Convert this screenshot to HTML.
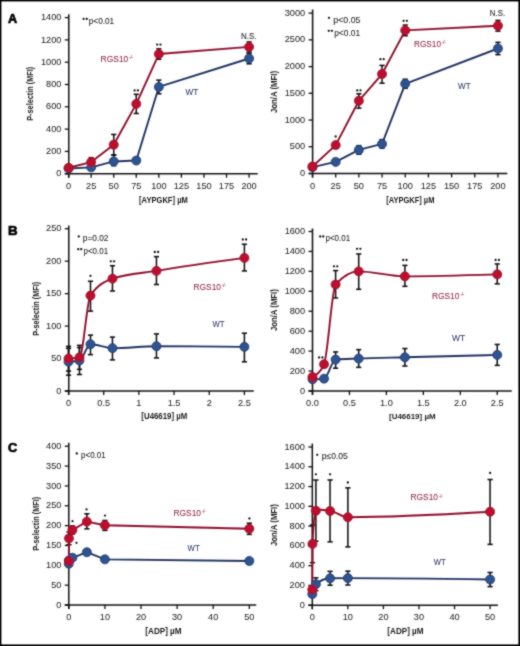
<!DOCTYPE html>
<html><head><meta charset="utf-8"><style>
html,body{margin:0;padding:0;background:#fff;}
body{width:520px;height:646px;overflow:hidden;}
.fr{position:absolute;left:0;top:0;width:520px;height:646px;box-sizing:border-box;border:1.5px solid #000;}
svg{position:absolute;left:0;top:0;will-change:transform;}
text{font-family:"Liberation Sans",sans-serif;}
.t{font-size:9.2px;fill:#262626;stroke:#262626;stroke-width:0.05px;}
.ti{font-size:8.6px;fill:#1a1a1a;font-weight:bold;}
.n{font-size:8.6px;fill:#262626;stroke:#262626;stroke-width:0.08px;}
.ss{font-size:6px;}
.st{font-size:7px;fill:#222;font-weight:bold;}
.lr{font-size:8.8px;fill:#8e2a4a;stroke:#8e2a4a;stroke-width:0.08px;}
.lrs{font-size:5px;fill:#8e2a4a;stroke:#8e2a4a;stroke-width:0.1px;}
.lb{font-size:8.8px;fill:#2c3b66;stroke:#2c3b66;stroke-width:0.08px;}
.L{font-size:13px;font-weight:bold;fill:#000;stroke:#000;stroke-width:0.7px;}
</style></head><body>
<svg width="520" height="646" viewBox="0 0 520 646"><defs><filter id="bl" x="0" y="0" width="520" height="646" filterUnits="userSpaceOnUse"><feConvolveMatrix order="3" kernelMatrix="1 2 1 2 12 2 1 2 1" divisor="24" edgeMode="duplicate"/></filter></defs><g filter="url(#bl)">
<line x1="68.8" y1="14.3" x2="68.8" y2="177.7" stroke="#111" stroke-width="1.5"/>
<line x1="64.8" y1="173.7" x2="257.7" y2="173.7" stroke="#111" stroke-width="1.5"/>
<line x1="64.8" y1="173.7" x2="68.8" y2="173.7" stroke="#111" stroke-width="1.3"/>
<text x="61.4" y="176.3" text-anchor="end" class="t" textLength="5.12" lengthAdjust="spacingAndGlyphs">0</text>
<line x1="64.8" y1="151.4" x2="68.8" y2="151.4" stroke="#111" stroke-width="1.3"/>
<text x="61.4" y="154" text-anchor="end" class="t" textLength="15.35" lengthAdjust="spacingAndGlyphs">200</text>
<line x1="64.8" y1="129.1" x2="68.8" y2="129.1" stroke="#111" stroke-width="1.3"/>
<text x="61.4" y="131.7" text-anchor="end" class="t" textLength="15.35" lengthAdjust="spacingAndGlyphs">400</text>
<line x1="64.8" y1="106.8" x2="68.8" y2="106.8" stroke="#111" stroke-width="1.3"/>
<text x="61.4" y="109.4" text-anchor="end" class="t" textLength="15.35" lengthAdjust="spacingAndGlyphs">600</text>
<line x1="64.8" y1="84.5" x2="68.8" y2="84.5" stroke="#111" stroke-width="1.3"/>
<text x="61.4" y="87.1" text-anchor="end" class="t" textLength="15.35" lengthAdjust="spacingAndGlyphs">800</text>
<line x1="64.8" y1="62.2" x2="68.8" y2="62.2" stroke="#111" stroke-width="1.3"/>
<text x="61.4" y="64.8" text-anchor="end" class="t" textLength="20.47" lengthAdjust="spacingAndGlyphs">1000</text>
<line x1="64.8" y1="39.9" x2="68.8" y2="39.9" stroke="#111" stroke-width="1.3"/>
<text x="61.4" y="42.5" text-anchor="end" class="t" textLength="20.47" lengthAdjust="spacingAndGlyphs">1200</text>
<line x1="64.8" y1="17.6" x2="68.8" y2="17.6" stroke="#111" stroke-width="1.3"/>
<text x="61.4" y="20.2" text-anchor="end" class="t" textLength="20.47" lengthAdjust="spacingAndGlyphs">1400</text>
<line x1="68.6" y1="173.7" x2="68.6" y2="177.7" stroke="#111" stroke-width="1.3"/>
<text x="68.6" y="188.7" text-anchor="middle" class="t" textLength="5.12" lengthAdjust="spacingAndGlyphs">0</text>
<line x1="91.16" y1="173.7" x2="91.16" y2="177.7" stroke="#111" stroke-width="1.3"/>
<text x="91.16" y="188.7" text-anchor="middle" class="t" textLength="10.23" lengthAdjust="spacingAndGlyphs">25</text>
<line x1="113.72" y1="173.7" x2="113.72" y2="177.7" stroke="#111" stroke-width="1.3"/>
<text x="113.72" y="188.7" text-anchor="middle" class="t" textLength="10.23" lengthAdjust="spacingAndGlyphs">50</text>
<line x1="136.28" y1="173.7" x2="136.28" y2="177.7" stroke="#111" stroke-width="1.3"/>
<text x="136.28" y="188.7" text-anchor="middle" class="t" textLength="10.23" lengthAdjust="spacingAndGlyphs">75</text>
<line x1="158.84" y1="173.7" x2="158.84" y2="177.7" stroke="#111" stroke-width="1.3"/>
<text x="158.84" y="188.7" text-anchor="middle" class="t" textLength="15.35" lengthAdjust="spacingAndGlyphs">100</text>
<line x1="181.4" y1="173.7" x2="181.4" y2="177.7" stroke="#111" stroke-width="1.3"/>
<text x="181.4" y="188.7" text-anchor="middle" class="t" textLength="15.35" lengthAdjust="spacingAndGlyphs">125</text>
<line x1="203.96" y1="173.7" x2="203.96" y2="177.7" stroke="#111" stroke-width="1.3"/>
<text x="203.96" y="188.7" text-anchor="middle" class="t" textLength="15.35" lengthAdjust="spacingAndGlyphs">150</text>
<line x1="226.52" y1="173.7" x2="226.52" y2="177.7" stroke="#111" stroke-width="1.3"/>
<text x="226.52" y="188.7" text-anchor="middle" class="t" textLength="15.35" lengthAdjust="spacingAndGlyphs">175</text>
<line x1="249.08" y1="173.7" x2="249.08" y2="177.7" stroke="#111" stroke-width="1.3"/>
<text x="249.08" y="188.7" text-anchor="middle" class="t" textLength="15.35" lengthAdjust="spacingAndGlyphs">200</text>
<line x1="113.72" y1="155.08" x2="113.72" y2="165.67" stroke="#0a0a0a" stroke-width="1.5"/>
<line x1="111.12" y1="155.08" x2="116.32" y2="155.08" stroke="#0a0a0a" stroke-width="1.5"/>
<line x1="111.12" y1="165.67" x2="116.32" y2="165.67" stroke="#0a0a0a" stroke-width="1.5"/>
<line x1="158.84" y1="80.15" x2="158.84" y2="93.75" stroke="#0a0a0a" stroke-width="1.5"/>
<line x1="156.24" y1="80.15" x2="161.44" y2="80.15" stroke="#0a0a0a" stroke-width="1.5"/>
<line x1="156.24" y1="93.75" x2="161.44" y2="93.75" stroke="#0a0a0a" stroke-width="1.5"/>
<line x1="249.08" y1="53.28" x2="249.08" y2="63.76" stroke="#0a0a0a" stroke-width="1.5"/>
<line x1="246.48" y1="53.28" x2="251.68" y2="53.28" stroke="#0a0a0a" stroke-width="1.5"/>
<line x1="246.48" y1="63.76" x2="251.68" y2="63.76" stroke="#0a0a0a" stroke-width="1.5"/>
<line x1="91.16" y1="157.64" x2="91.16" y2="166.56" stroke="#0a0a0a" stroke-width="1.5"/>
<line x1="88.56" y1="157.64" x2="93.76" y2="157.64" stroke="#0a0a0a" stroke-width="1.5"/>
<line x1="88.56" y1="166.56" x2="93.76" y2="166.56" stroke="#0a0a0a" stroke-width="1.5"/>
<line x1="113.72" y1="134.45" x2="113.72" y2="154.97" stroke="#0a0a0a" stroke-width="1.5"/>
<line x1="111.12" y1="134.45" x2="116.32" y2="134.45" stroke="#0a0a0a" stroke-width="1.5"/>
<line x1="111.12" y1="154.97" x2="116.32" y2="154.97" stroke="#0a0a0a" stroke-width="1.5"/>
<line x1="136.28" y1="94.31" x2="136.28" y2="113.49" stroke="#0a0a0a" stroke-width="1.5"/>
<line x1="133.68" y1="94.31" x2="138.88" y2="94.31" stroke="#0a0a0a" stroke-width="1.5"/>
<line x1="133.68" y1="113.49" x2="138.88" y2="113.49" stroke="#0a0a0a" stroke-width="1.5"/>
<line x1="158.84" y1="48.82" x2="158.84" y2="59.3" stroke="#0a0a0a" stroke-width="1.5"/>
<line x1="156.24" y1="48.82" x2="161.44" y2="48.82" stroke="#0a0a0a" stroke-width="1.5"/>
<line x1="156.24" y1="59.3" x2="161.44" y2="59.3" stroke="#0a0a0a" stroke-width="1.5"/>
<line x1="249.08" y1="41.91" x2="249.08" y2="51.94" stroke="#0a0a0a" stroke-width="1.5"/>
<line x1="246.48" y1="41.91" x2="251.68" y2="41.91" stroke="#0a0a0a" stroke-width="1.5"/>
<line x1="246.48" y1="51.94" x2="251.68" y2="51.94" stroke="#0a0a0a" stroke-width="1.5"/>
<polyline points="68.6,168.57 91.16,167.34 113.72,161.44 136.28,160.54 158.84,86.95 249.08,58.52" fill="none" stroke="#22335f" stroke-width="1.9" stroke-linejoin="round"/>
<polyline points="68.6,167.79 91.16,162.1 113.72,144.71 136.28,103.9 158.84,54.06 249.08,46.92" fill="none" stroke="#8e0b2a" stroke-width="1.9" stroke-linejoin="round"/>
<circle cx="68.6" cy="168.57" r="4.5" fill="#2e5391" stroke="#1e3566" stroke-width="0.8"/>
<circle cx="91.16" cy="167.34" r="4.5" fill="#2e5391" stroke="#1e3566" stroke-width="0.8"/>
<circle cx="113.72" cy="161.44" r="4.5" fill="#2e5391" stroke="#1e3566" stroke-width="0.8"/>
<circle cx="136.28" cy="160.54" r="4.5" fill="#2e5391" stroke="#1e3566" stroke-width="0.8"/>
<circle cx="158.84" cy="86.95" r="4.5" fill="#2e5391" stroke="#1e3566" stroke-width="0.8"/>
<circle cx="249.08" cy="58.52" r="4.5" fill="#2e5391" stroke="#1e3566" stroke-width="0.8"/>
<circle cx="68.6" cy="167.79" r="4.5" fill="#bf0e2d" stroke="#8a0b27" stroke-width="0.8"/>
<circle cx="91.16" cy="162.1" r="4.5" fill="#bf0e2d" stroke="#8a0b27" stroke-width="0.8"/>
<circle cx="113.72" cy="144.71" r="4.5" fill="#bf0e2d" stroke="#8a0b27" stroke-width="0.8"/>
<circle cx="136.28" cy="103.9" r="4.5" fill="#bf0e2d" stroke="#8a0b27" stroke-width="0.8"/>
<circle cx="158.84" cy="54.06" r="4.5" fill="#bf0e2d" stroke="#8a0b27" stroke-width="0.8"/>
<circle cx="249.08" cy="46.92" r="4.5" fill="#bf0e2d" stroke="#8a0b27" stroke-width="0.8"/>
<circle cx="134.63" cy="90.4" r="1.15" fill="#151515"/>
<circle cx="137.93" cy="90.4" r="1.15" fill="#151515"/>
<circle cx="157.19" cy="44.6" r="1.15" fill="#151515"/>
<circle cx="160.49" cy="44.6" r="1.15" fill="#151515"/>
<text x="240.96" y="39.4" class="n" textLength="15.6" lengthAdjust="spacingAndGlyphs">N.S.</text>
<circle cx="83.6" cy="18.9" r="1.15" fill="#151515"/>
<circle cx="86.8" cy="18.9" r="1.15" fill="#151515"/>
<text x="88.8" y="23.5" class="n" textLength="25.4" lengthAdjust="spacingAndGlyphs">p&lt;0.01</text>
<text x="100.52" y="61.5" class="lr" textLength="27.81" lengthAdjust="spacingAndGlyphs">RGS10</text>
<text x="129.21" y="59.1" class="lrs" textLength="3.97" lengthAdjust="spacingAndGlyphs">-/-</text>
<text x="185.56" y="94.5" class="lb" textLength="12.8" lengthAdjust="spacingAndGlyphs">WT</text>
<text transform="translate(32.64,120.78) rotate(-90)" class="ti" style="font-size:8.88px" textLength="54.04" lengthAdjust="spacingAndGlyphs">P-selectin (MFI)</text>
<text x="139.08" y="202.58" class="ti" textLength="48.74" lengthAdjust="spacingAndGlyphs" style="font-size:8.66px">[AYPGKF] µM</text>
<text x="7.98" y="23.4" class="L" textLength="9.16" lengthAdjust="spacingAndGlyphs" style="font-size:13.48px">A</text>
<line x1="312.6" y1="9.5" x2="312.6" y2="177.5" stroke="#111" stroke-width="1.5"/>
<line x1="308.6" y1="173.5" x2="507.3" y2="173.5" stroke="#111" stroke-width="1.5"/>
<line x1="308.6" y1="173.5" x2="312.6" y2="173.5" stroke="#111" stroke-width="1.3"/>
<text x="305.2" y="176.1" text-anchor="end" class="t" textLength="5.12" lengthAdjust="spacingAndGlyphs">0</text>
<line x1="308.6" y1="146.77" x2="312.6" y2="146.77" stroke="#111" stroke-width="1.3"/>
<text x="305.2" y="149.37" text-anchor="end" class="t" textLength="15.35" lengthAdjust="spacingAndGlyphs">500</text>
<line x1="308.6" y1="120.04" x2="312.6" y2="120.04" stroke="#111" stroke-width="1.3"/>
<text x="305.2" y="122.64" text-anchor="end" class="t" textLength="20.47" lengthAdjust="spacingAndGlyphs">1000</text>
<line x1="308.6" y1="93.31" x2="312.6" y2="93.31" stroke="#111" stroke-width="1.3"/>
<text x="305.2" y="95.91" text-anchor="end" class="t" textLength="20.47" lengthAdjust="spacingAndGlyphs">1500</text>
<line x1="308.6" y1="66.58" x2="312.6" y2="66.58" stroke="#111" stroke-width="1.3"/>
<text x="305.2" y="69.18" text-anchor="end" class="t" textLength="20.47" lengthAdjust="spacingAndGlyphs">2000</text>
<line x1="308.6" y1="39.85" x2="312.6" y2="39.85" stroke="#111" stroke-width="1.3"/>
<text x="305.2" y="42.45" text-anchor="end" class="t" textLength="20.47" lengthAdjust="spacingAndGlyphs">2500</text>
<line x1="308.6" y1="13.12" x2="312.6" y2="13.12" stroke="#111" stroke-width="1.3"/>
<text x="305.2" y="15.72" text-anchor="end" class="t" textLength="20.47" lengthAdjust="spacingAndGlyphs">3000</text>
<line x1="312.5" y1="173.5" x2="312.5" y2="177.5" stroke="#111" stroke-width="1.3"/>
<text x="312.5" y="188.5" text-anchor="middle" class="t" textLength="5.12" lengthAdjust="spacingAndGlyphs">0</text>
<line x1="335.68" y1="173.5" x2="335.68" y2="177.5" stroke="#111" stroke-width="1.3"/>
<text x="335.68" y="188.5" text-anchor="middle" class="t" textLength="10.23" lengthAdjust="spacingAndGlyphs">25</text>
<line x1="358.86" y1="173.5" x2="358.86" y2="177.5" stroke="#111" stroke-width="1.3"/>
<text x="358.86" y="188.5" text-anchor="middle" class="t" textLength="10.23" lengthAdjust="spacingAndGlyphs">50</text>
<line x1="382.04" y1="173.5" x2="382.04" y2="177.5" stroke="#111" stroke-width="1.3"/>
<text x="382.04" y="188.5" text-anchor="middle" class="t" textLength="10.23" lengthAdjust="spacingAndGlyphs">75</text>
<line x1="405.22" y1="173.5" x2="405.22" y2="177.5" stroke="#111" stroke-width="1.3"/>
<text x="405.22" y="188.5" text-anchor="middle" class="t" textLength="15.35" lengthAdjust="spacingAndGlyphs">100</text>
<line x1="428.4" y1="173.5" x2="428.4" y2="177.5" stroke="#111" stroke-width="1.3"/>
<text x="428.4" y="188.5" text-anchor="middle" class="t" textLength="15.35" lengthAdjust="spacingAndGlyphs">125</text>
<line x1="451.58" y1="173.5" x2="451.58" y2="177.5" stroke="#111" stroke-width="1.3"/>
<text x="451.58" y="188.5" text-anchor="middle" class="t" textLength="15.35" lengthAdjust="spacingAndGlyphs">150</text>
<line x1="474.76" y1="173.5" x2="474.76" y2="177.5" stroke="#111" stroke-width="1.3"/>
<text x="474.76" y="188.5" text-anchor="middle" class="t" textLength="15.35" lengthAdjust="spacingAndGlyphs">175</text>
<line x1="497.94" y1="173.5" x2="497.94" y2="177.5" stroke="#111" stroke-width="1.3"/>
<text x="497.94" y="188.5" text-anchor="middle" class="t" textLength="15.35" lengthAdjust="spacingAndGlyphs">200</text>
<line x1="358.86" y1="145.65" x2="358.86" y2="154.2" stroke="#0a0a0a" stroke-width="1.5"/>
<line x1="356.26" y1="145.65" x2="361.46" y2="145.65" stroke="#0a0a0a" stroke-width="1.5"/>
<line x1="356.26" y1="154.2" x2="361.46" y2="154.2" stroke="#0a0a0a" stroke-width="1.5"/>
<line x1="382.04" y1="139.61" x2="382.04" y2="148.16" stroke="#0a0a0a" stroke-width="1.5"/>
<line x1="379.44" y1="139.61" x2="384.64" y2="139.61" stroke="#0a0a0a" stroke-width="1.5"/>
<line x1="379.44" y1="148.16" x2="384.64" y2="148.16" stroke="#0a0a0a" stroke-width="1.5"/>
<line x1="405.22" y1="79.25" x2="405.22" y2="88.34" stroke="#0a0a0a" stroke-width="1.5"/>
<line x1="402.62" y1="79.25" x2="407.82" y2="79.25" stroke="#0a0a0a" stroke-width="1.5"/>
<line x1="402.62" y1="88.34" x2="407.82" y2="88.34" stroke="#0a0a0a" stroke-width="1.5"/>
<line x1="497.94" y1="42.36" x2="497.94" y2="54.66" stroke="#0a0a0a" stroke-width="1.5"/>
<line x1="495.34" y1="42.36" x2="500.54" y2="42.36" stroke="#0a0a0a" stroke-width="1.5"/>
<line x1="495.34" y1="54.66" x2="500.54" y2="54.66" stroke="#0a0a0a" stroke-width="1.5"/>
<line x1="358.86" y1="93.79" x2="358.86" y2="108.17" stroke="#0a0a0a" stroke-width="1.5"/>
<line x1="356.26" y1="93.79" x2="361.46" y2="93.79" stroke="#0a0a0a" stroke-width="1.5"/>
<line x1="356.26" y1="108.17" x2="361.46" y2="108.17" stroke="#0a0a0a" stroke-width="1.5"/>
<line x1="382.04" y1="65.4" x2="382.04" y2="83.21" stroke="#0a0a0a" stroke-width="1.5"/>
<line x1="379.44" y1="65.4" x2="384.64" y2="65.4" stroke="#0a0a0a" stroke-width="1.5"/>
<line x1="379.44" y1="83.21" x2="384.64" y2="83.21" stroke="#0a0a0a" stroke-width="1.5"/>
<line x1="405.22" y1="25.04" x2="405.22" y2="35.73" stroke="#0a0a0a" stroke-width="1.5"/>
<line x1="402.62" y1="25.04" x2="407.82" y2="25.04" stroke="#0a0a0a" stroke-width="1.5"/>
<line x1="402.62" y1="35.73" x2="407.82" y2="35.73" stroke="#0a0a0a" stroke-width="1.5"/>
<line x1="497.94" y1="20.44" x2="497.94" y2="31.14" stroke="#0a0a0a" stroke-width="1.5"/>
<line x1="495.34" y1="20.44" x2="500.54" y2="20.44" stroke="#0a0a0a" stroke-width="1.5"/>
<line x1="495.34" y1="31.14" x2="500.54" y2="31.14" stroke="#0a0a0a" stroke-width="1.5"/>
<polyline points="312.5,167.19 335.68,161.9 358.86,149.92 382.04,143.88 405.22,83.79 497.94,48.51" fill="none" stroke="#22335f" stroke-width="1.9" stroke-linejoin="round"/>
<polyline points="312.5,166.5 335.68,145.11 358.86,100.79 382.04,74.01 405.22,30.39 497.94,25.79" fill="none" stroke="#8e0b2a" stroke-width="1.9" stroke-linejoin="round"/>
<circle cx="312.5" cy="167.19" r="4.5" fill="#2e5391" stroke="#1e3566" stroke-width="0.8"/>
<circle cx="335.68" cy="161.9" r="4.5" fill="#2e5391" stroke="#1e3566" stroke-width="0.8"/>
<circle cx="358.86" cy="149.92" r="4.5" fill="#2e5391" stroke="#1e3566" stroke-width="0.8"/>
<circle cx="382.04" cy="143.88" r="4.5" fill="#2e5391" stroke="#1e3566" stroke-width="0.8"/>
<circle cx="405.22" cy="83.79" r="4.5" fill="#2e5391" stroke="#1e3566" stroke-width="0.8"/>
<circle cx="497.94" cy="48.51" r="4.5" fill="#2e5391" stroke="#1e3566" stroke-width="0.8"/>
<circle cx="312.5" cy="166.5" r="4.5" fill="#bf0e2d" stroke="#8a0b27" stroke-width="0.8"/>
<circle cx="335.68" cy="145.11" r="4.5" fill="#bf0e2d" stroke="#8a0b27" stroke-width="0.8"/>
<circle cx="358.86" cy="100.79" r="4.5" fill="#bf0e2d" stroke="#8a0b27" stroke-width="0.8"/>
<circle cx="382.04" cy="74.01" r="4.5" fill="#bf0e2d" stroke="#8a0b27" stroke-width="0.8"/>
<circle cx="405.22" cy="30.39" r="4.5" fill="#bf0e2d" stroke="#8a0b27" stroke-width="0.8"/>
<circle cx="497.94" cy="25.79" r="4.5" fill="#bf0e2d" stroke="#8a0b27" stroke-width="0.8"/>
<circle cx="335.68" cy="136.5" r="1.15" fill="#151515"/>
<circle cx="357.21" cy="90.4" r="1.15" fill="#151515"/>
<circle cx="360.51" cy="90.4" r="1.15" fill="#151515"/>
<circle cx="380.39" cy="59.2" r="1.15" fill="#151515"/>
<circle cx="383.69" cy="59.2" r="1.15" fill="#151515"/>
<circle cx="403.57" cy="20.8" r="1.15" fill="#151515"/>
<circle cx="406.87" cy="20.8" r="1.15" fill="#151515"/>
<text x="489.87" y="16.3" class="n" textLength="15.27" lengthAdjust="spacingAndGlyphs">N.S.</text>
<circle cx="329" cy="17.8" r="1.15" fill="#151515"/>
<text x="333.2" y="22.5" class="n" textLength="27.3" lengthAdjust="spacingAndGlyphs">p&lt;0.05</text>
<circle cx="328.8" cy="30.8" r="1.15" fill="#151515"/>
<circle cx="331.9" cy="30.8" r="1.15" fill="#151515"/>
<text x="334.2" y="35.6" class="n" textLength="26" lengthAdjust="spacingAndGlyphs">p&lt;0.01</text>
<text x="414.04" y="47.1" class="lr" textLength="26.98" lengthAdjust="spacingAndGlyphs">RGS10</text>
<text x="441.91" y="44.4" class="lrs" textLength="3.97" lengthAdjust="spacingAndGlyphs">-/-</text>
<text x="458.06" y="88.8" class="lb" textLength="12.6" lengthAdjust="spacingAndGlyphs">WT</text>
<text transform="translate(276.97,113.02) rotate(-90)" class="ti" style="font-size:9.2px" textLength="42.08" lengthAdjust="spacingAndGlyphs">Jon/A (MFI)</text>
<text x="386.19" y="202.58" class="ti" textLength="48.23" lengthAdjust="spacingAndGlyphs" style="font-size:8.66px">[AYPGKF] µM</text>
<line x1="68.8" y1="225.6" x2="68.8" y2="395" stroke="#111" stroke-width="1.5"/>
<line x1="64.8" y1="391" x2="253.75" y2="391" stroke="#111" stroke-width="1.5"/>
<line x1="64.8" y1="391" x2="68.8" y2="391" stroke="#111" stroke-width="1.3"/>
<text x="61.4" y="393.6" text-anchor="end" class="t" textLength="5.12" lengthAdjust="spacingAndGlyphs">0</text>
<line x1="64.8" y1="358.54" x2="68.8" y2="358.54" stroke="#111" stroke-width="1.3"/>
<text x="61.4" y="361.14" text-anchor="end" class="t" textLength="10.23" lengthAdjust="spacingAndGlyphs">50</text>
<line x1="64.8" y1="326.08" x2="68.8" y2="326.08" stroke="#111" stroke-width="1.3"/>
<text x="61.4" y="328.68" text-anchor="end" class="t" textLength="15.35" lengthAdjust="spacingAndGlyphs">100</text>
<line x1="64.8" y1="293.62" x2="68.8" y2="293.62" stroke="#111" stroke-width="1.3"/>
<text x="61.4" y="296.22" text-anchor="end" class="t" textLength="15.35" lengthAdjust="spacingAndGlyphs">150</text>
<line x1="64.8" y1="261.16" x2="68.8" y2="261.16" stroke="#111" stroke-width="1.3"/>
<text x="61.4" y="263.76" text-anchor="end" class="t" textLength="15.35" lengthAdjust="spacingAndGlyphs">200</text>
<line x1="64.8" y1="228.7" x2="68.8" y2="228.7" stroke="#111" stroke-width="1.3"/>
<text x="61.4" y="231.3" text-anchor="end" class="t" textLength="15.35" lengthAdjust="spacingAndGlyphs">250</text>
<line x1="68.5" y1="391" x2="68.5" y2="395" stroke="#111" stroke-width="1.3"/>
<text x="68.5" y="406" text-anchor="middle" class="t" textLength="5.12" lengthAdjust="spacingAndGlyphs">0</text>
<line x1="103.68" y1="391" x2="103.68" y2="395" stroke="#111" stroke-width="1.3"/>
<text x="103.68" y="406" text-anchor="middle" class="t" textLength="12.79" lengthAdjust="spacingAndGlyphs">0.5</text>
<line x1="138.86" y1="391" x2="138.86" y2="395" stroke="#111" stroke-width="1.3"/>
<text x="138.86" y="406" text-anchor="middle" class="t" textLength="5.12" lengthAdjust="spacingAndGlyphs">1</text>
<line x1="174.04" y1="391" x2="174.04" y2="395" stroke="#111" stroke-width="1.3"/>
<text x="174.04" y="406" text-anchor="middle" class="t" textLength="12.79" lengthAdjust="spacingAndGlyphs">1.5</text>
<line x1="209.22" y1="391" x2="209.22" y2="395" stroke="#111" stroke-width="1.3"/>
<text x="209.22" y="406" text-anchor="middle" class="t" textLength="5.12" lengthAdjust="spacingAndGlyphs">2</text>
<line x1="244.4" y1="391" x2="244.4" y2="395" stroke="#111" stroke-width="1.3"/>
<text x="244.4" y="406" text-anchor="middle" class="t" textLength="12.79" lengthAdjust="spacingAndGlyphs">2.5</text>
<line x1="68.5" y1="348.35" x2="68.5" y2="375.22" stroke="#0a0a0a" stroke-width="1.5"/>
<line x1="65.9" y1="348.35" x2="71.1" y2="348.35" stroke="#0a0a0a" stroke-width="1.5"/>
<line x1="65.9" y1="375.22" x2="71.1" y2="375.22" stroke="#0a0a0a" stroke-width="1.5"/>
<line x1="79.48" y1="347.5" x2="79.48" y2="374.51" stroke="#0a0a0a" stroke-width="1.5"/>
<line x1="76.88" y1="347.5" x2="82.08" y2="347.5" stroke="#0a0a0a" stroke-width="1.5"/>
<line x1="76.88" y1="374.51" x2="82.08" y2="374.51" stroke="#0a0a0a" stroke-width="1.5"/>
<line x1="90.49" y1="335.17" x2="90.49" y2="354.64" stroke="#0a0a0a" stroke-width="1.5"/>
<line x1="87.89" y1="335.17" x2="93.09" y2="335.17" stroke="#0a0a0a" stroke-width="1.5"/>
<line x1="87.89" y1="354.64" x2="93.09" y2="354.64" stroke="#0a0a0a" stroke-width="1.5"/>
<line x1="112.47" y1="337.12" x2="112.47" y2="359.84" stroke="#0a0a0a" stroke-width="1.5"/>
<line x1="109.88" y1="337.12" x2="115.07" y2="337.12" stroke="#0a0a0a" stroke-width="1.5"/>
<line x1="109.88" y1="359.84" x2="115.07" y2="359.84" stroke="#0a0a0a" stroke-width="1.5"/>
<line x1="156.45" y1="333.87" x2="156.45" y2="357.89" stroke="#0a0a0a" stroke-width="1.5"/>
<line x1="153.85" y1="333.87" x2="159.05" y2="333.87" stroke="#0a0a0a" stroke-width="1.5"/>
<line x1="153.85" y1="357.89" x2="159.05" y2="357.89" stroke="#0a0a0a" stroke-width="1.5"/>
<line x1="244.4" y1="333.22" x2="244.4" y2="361.79" stroke="#0a0a0a" stroke-width="1.5"/>
<line x1="241.8" y1="333.22" x2="247" y2="333.22" stroke="#0a0a0a" stroke-width="1.5"/>
<line x1="241.8" y1="361.79" x2="247" y2="361.79" stroke="#0a0a0a" stroke-width="1.5"/>
<line x1="68.5" y1="346.4" x2="68.5" y2="371.13" stroke="#0a0a0a" stroke-width="1.5"/>
<line x1="65.9" y1="346.4" x2="71.1" y2="346.4" stroke="#0a0a0a" stroke-width="1.5"/>
<line x1="65.9" y1="371.13" x2="71.1" y2="371.13" stroke="#0a0a0a" stroke-width="1.5"/>
<line x1="79.48" y1="345.36" x2="79.48" y2="369.38" stroke="#0a0a0a" stroke-width="1.5"/>
<line x1="76.88" y1="345.36" x2="82.08" y2="345.36" stroke="#0a0a0a" stroke-width="1.5"/>
<line x1="76.88" y1="369.38" x2="82.08" y2="369.38" stroke="#0a0a0a" stroke-width="1.5"/>
<line x1="90.49" y1="281.29" x2="90.49" y2="311.15" stroke="#0a0a0a" stroke-width="1.5"/>
<line x1="87.89" y1="281.29" x2="93.09" y2="281.29" stroke="#0a0a0a" stroke-width="1.5"/>
<line x1="87.89" y1="311.15" x2="93.09" y2="311.15" stroke="#0a0a0a" stroke-width="1.5"/>
<line x1="112.47" y1="265.7" x2="112.47" y2="291.02" stroke="#0a0a0a" stroke-width="1.5"/>
<line x1="109.88" y1="265.7" x2="115.07" y2="265.7" stroke="#0a0a0a" stroke-width="1.5"/>
<line x1="109.88" y1="291.02" x2="115.07" y2="291.02" stroke="#0a0a0a" stroke-width="1.5"/>
<line x1="156.45" y1="256.62" x2="156.45" y2="284.53" stroke="#0a0a0a" stroke-width="1.5"/>
<line x1="153.85" y1="256.62" x2="159.05" y2="256.62" stroke="#0a0a0a" stroke-width="1.5"/>
<line x1="153.85" y1="284.53" x2="159.05" y2="284.53" stroke="#0a0a0a" stroke-width="1.5"/>
<line x1="244.4" y1="244.28" x2="244.4" y2="270.9" stroke="#0a0a0a" stroke-width="1.5"/>
<line x1="241.8" y1="244.28" x2="247" y2="244.28" stroke="#0a0a0a" stroke-width="1.5"/>
<line x1="241.8" y1="270.9" x2="247" y2="270.9" stroke="#0a0a0a" stroke-width="1.5"/>
<path d="M68.5,361.72 C72.16,361.52 75.82,361.31 79.48,360.49 C83.15,359.66 86.82,344.26 90.49,344.26 C97.82,344.26 105.15,348.15 112.47,348.15 C127.13,348.15 141.79,346.21 156.45,346.21 C185.77,346.21 215.08,346.53 244.4,346.85" fill="none" stroke="#22335f" stroke-width="1.9" stroke-linejoin="round"/>
<path d="M68.5,358.6 C72.16,358.4 75.82,358.19 79.48,357.37 C83.15,356.55 86.82,301.2 90.49,295.57 C97.82,284.31 105.15,281.29 112.47,278.69 C127.13,273.49 141.79,273.35 156.45,270.9 C185.77,265.99 215.08,261.95 244.4,257.91" fill="none" stroke="#8e0b2a" stroke-width="1.9" stroke-linejoin="round"/>
<circle cx="68.5" cy="361.72" r="4.5" fill="#2e5391" stroke="#1e3566" stroke-width="0.8"/>
<circle cx="79.48" cy="360.49" r="4.5" fill="#2e5391" stroke="#1e3566" stroke-width="0.8"/>
<circle cx="90.49" cy="344.26" r="4.5" fill="#2e5391" stroke="#1e3566" stroke-width="0.8"/>
<circle cx="112.47" cy="348.15" r="4.5" fill="#2e5391" stroke="#1e3566" stroke-width="0.8"/>
<circle cx="156.45" cy="346.21" r="4.5" fill="#2e5391" stroke="#1e3566" stroke-width="0.8"/>
<circle cx="244.4" cy="346.85" r="4.5" fill="#2e5391" stroke="#1e3566" stroke-width="0.8"/>
<circle cx="68.5" cy="358.6" r="4.5" fill="#bf0e2d" stroke="#8a0b27" stroke-width="0.8"/>
<circle cx="79.48" cy="357.37" r="4.5" fill="#bf0e2d" stroke="#8a0b27" stroke-width="0.8"/>
<circle cx="90.49" cy="295.57" r="4.5" fill="#bf0e2d" stroke="#8a0b27" stroke-width="0.8"/>
<circle cx="112.47" cy="278.69" r="4.5" fill="#bf0e2d" stroke="#8a0b27" stroke-width="0.8"/>
<circle cx="156.45" cy="270.9" r="4.5" fill="#bf0e2d" stroke="#8a0b27" stroke-width="0.8"/>
<circle cx="244.4" cy="257.91" r="4.5" fill="#bf0e2d" stroke="#8a0b27" stroke-width="0.8"/>
<circle cx="90.49" cy="275.8" r="1.15" fill="#151515"/>
<circle cx="110.82" cy="261.3" r="1.15" fill="#151515"/>
<circle cx="114.12" cy="261.3" r="1.15" fill="#151515"/>
<circle cx="154.8" cy="252" r="1.15" fill="#151515"/>
<circle cx="158.1" cy="252" r="1.15" fill="#151515"/>
<circle cx="242.75" cy="239.5" r="1.15" fill="#151515"/>
<circle cx="246.05" cy="239.5" r="1.15" fill="#151515"/>
<circle cx="78.8" cy="236.5" r="1.15" fill="#151515"/>
<text x="82.8" y="241" class="n" textLength="25.7" lengthAdjust="spacingAndGlyphs">p=0.02</text>
<circle cx="78.2" cy="249.2" r="1.15" fill="#151515"/>
<circle cx="81.2" cy="249.2" r="1.15" fill="#151515"/>
<text x="83.5" y="253.8" class="n" textLength="24.7" lengthAdjust="spacingAndGlyphs">p&lt;0.01</text>
<text x="193.43" y="290" class="lr" textLength="27.6" lengthAdjust="spacingAndGlyphs">RGS10</text>
<text x="221.91" y="287.2" class="lrs" textLength="3.97" lengthAdjust="spacingAndGlyphs">-/-</text>
<text x="212.56" y="327.3" class="lb" textLength="11.99" lengthAdjust="spacingAndGlyphs">WT</text>
<text transform="translate(38.61,335.78) rotate(-90)" class="ti" style="font-size:9.95px" textLength="54.04" lengthAdjust="spacingAndGlyphs">P-selectin (MFI)</text>
<text x="141.37" y="419.18" class="ti" textLength="45.95" lengthAdjust="spacingAndGlyphs" style="font-size:8.66px">[U46619] µM</text>
<text x="8.04" y="235.2" class="L" textLength="9.59" lengthAdjust="spacingAndGlyphs" style="font-size:13.33px">B</text>
<line x1="312.5" y1="228.5" x2="312.5" y2="395" stroke="#111" stroke-width="1.5"/>
<line x1="308.5" y1="391" x2="511.75" y2="391" stroke="#111" stroke-width="1.5"/>
<line x1="308.5" y1="391" x2="312.5" y2="391" stroke="#111" stroke-width="1.3"/>
<text x="305.1" y="393.6" text-anchor="end" class="t" textLength="5.12" lengthAdjust="spacingAndGlyphs">0</text>
<line x1="308.5" y1="371.06" x2="312.5" y2="371.06" stroke="#111" stroke-width="1.3"/>
<text x="305.1" y="373.66" text-anchor="end" class="t" textLength="15.35" lengthAdjust="spacingAndGlyphs">200</text>
<line x1="308.5" y1="351.12" x2="312.5" y2="351.12" stroke="#111" stroke-width="1.3"/>
<text x="305.1" y="353.73" text-anchor="end" class="t" textLength="15.35" lengthAdjust="spacingAndGlyphs">400</text>
<line x1="308.5" y1="331.19" x2="312.5" y2="331.19" stroke="#111" stroke-width="1.3"/>
<text x="305.1" y="333.79" text-anchor="end" class="t" textLength="15.35" lengthAdjust="spacingAndGlyphs">600</text>
<line x1="308.5" y1="311.25" x2="312.5" y2="311.25" stroke="#111" stroke-width="1.3"/>
<text x="305.1" y="313.85" text-anchor="end" class="t" textLength="15.35" lengthAdjust="spacingAndGlyphs">800</text>
<line x1="308.5" y1="291.31" x2="312.5" y2="291.31" stroke="#111" stroke-width="1.3"/>
<text x="305.1" y="293.91" text-anchor="end" class="t" textLength="20.47" lengthAdjust="spacingAndGlyphs">1000</text>
<line x1="308.5" y1="271.38" x2="312.5" y2="271.38" stroke="#111" stroke-width="1.3"/>
<text x="305.1" y="273.98" text-anchor="end" class="t" textLength="20.47" lengthAdjust="spacingAndGlyphs">1200</text>
<line x1="308.5" y1="251.44" x2="312.5" y2="251.44" stroke="#111" stroke-width="1.3"/>
<text x="305.1" y="254.04" text-anchor="end" class="t" textLength="20.47" lengthAdjust="spacingAndGlyphs">1400</text>
<line x1="308.5" y1="231.5" x2="312.5" y2="231.5" stroke="#111" stroke-width="1.3"/>
<text x="305.1" y="234.1" text-anchor="end" class="t" textLength="20.47" lengthAdjust="spacingAndGlyphs">1600</text>
<line x1="312.5" y1="391" x2="312.5" y2="395" stroke="#111" stroke-width="1.3"/>
<text x="312.5" y="406" text-anchor="middle" class="t" textLength="12.79" lengthAdjust="spacingAndGlyphs">0.0</text>
<line x1="349.45" y1="391" x2="349.45" y2="395" stroke="#111" stroke-width="1.3"/>
<text x="349.45" y="406" text-anchor="middle" class="t" textLength="12.79" lengthAdjust="spacingAndGlyphs">0.5</text>
<line x1="386.4" y1="391" x2="386.4" y2="395" stroke="#111" stroke-width="1.3"/>
<text x="386.4" y="406" text-anchor="middle" class="t" textLength="12.79" lengthAdjust="spacingAndGlyphs">1.0</text>
<line x1="423.35" y1="391" x2="423.35" y2="395" stroke="#111" stroke-width="1.3"/>
<text x="423.35" y="406" text-anchor="middle" class="t" textLength="12.79" lengthAdjust="spacingAndGlyphs">1.5</text>
<line x1="460.3" y1="391" x2="460.3" y2="395" stroke="#111" stroke-width="1.3"/>
<text x="460.3" y="406" text-anchor="middle" class="t" textLength="12.79" lengthAdjust="spacingAndGlyphs">2.0</text>
<line x1="497.25" y1="391" x2="497.25" y2="395" stroke="#111" stroke-width="1.3"/>
<text x="497.25" y="406" text-anchor="middle" class="t" textLength="12.79" lengthAdjust="spacingAndGlyphs">2.5</text>
<line x1="335.59" y1="351.92" x2="335.59" y2="368.27" stroke="#0a0a0a" stroke-width="1.5"/>
<line x1="332.99" y1="351.92" x2="338.19" y2="351.92" stroke="#0a0a0a" stroke-width="1.5"/>
<line x1="332.99" y1="368.27" x2="338.19" y2="368.27" stroke="#0a0a0a" stroke-width="1.5"/>
<line x1="358.69" y1="349.63" x2="358.69" y2="367.37" stroke="#0a0a0a" stroke-width="1.5"/>
<line x1="356.09" y1="349.63" x2="361.29" y2="349.63" stroke="#0a0a0a" stroke-width="1.5"/>
<line x1="356.09" y1="367.37" x2="361.29" y2="367.37" stroke="#0a0a0a" stroke-width="1.5"/>
<line x1="404.88" y1="348.53" x2="404.88" y2="366.08" stroke="#0a0a0a" stroke-width="1.5"/>
<line x1="402.27" y1="348.53" x2="407.48" y2="348.53" stroke="#0a0a0a" stroke-width="1.5"/>
<line x1="402.27" y1="366.08" x2="407.48" y2="366.08" stroke="#0a0a0a" stroke-width="1.5"/>
<line x1="497.25" y1="344.45" x2="497.25" y2="365.38" stroke="#0a0a0a" stroke-width="1.5"/>
<line x1="494.65" y1="344.45" x2="499.85" y2="344.45" stroke="#0a0a0a" stroke-width="1.5"/>
<line x1="494.65" y1="365.38" x2="499.85" y2="365.38" stroke="#0a0a0a" stroke-width="1.5"/>
<line x1="335.59" y1="270.58" x2="335.59" y2="297.99" stroke="#0a0a0a" stroke-width="1.5"/>
<line x1="332.99" y1="270.58" x2="338.19" y2="270.58" stroke="#0a0a0a" stroke-width="1.5"/>
<line x1="332.99" y1="297.99" x2="338.19" y2="297.99" stroke="#0a0a0a" stroke-width="1.5"/>
<line x1="358.69" y1="253.93" x2="358.69" y2="289.32" stroke="#0a0a0a" stroke-width="1.5"/>
<line x1="356.09" y1="253.93" x2="361.29" y2="253.93" stroke="#0a0a0a" stroke-width="1.5"/>
<line x1="356.09" y1="289.32" x2="361.29" y2="289.32" stroke="#0a0a0a" stroke-width="1.5"/>
<line x1="404.88" y1="265.39" x2="404.88" y2="286.33" stroke="#0a0a0a" stroke-width="1.5"/>
<line x1="402.27" y1="265.39" x2="407.48" y2="265.39" stroke="#0a0a0a" stroke-width="1.5"/>
<line x1="402.27" y1="286.33" x2="407.48" y2="286.33" stroke="#0a0a0a" stroke-width="1.5"/>
<line x1="497.25" y1="263.9" x2="497.25" y2="283.84" stroke="#0a0a0a" stroke-width="1.5"/>
<line x1="494.65" y1="263.9" x2="499.85" y2="263.9" stroke="#0a0a0a" stroke-width="1.5"/>
<line x1="494.65" y1="283.84" x2="499.85" y2="283.84" stroke="#0a0a0a" stroke-width="1.5"/>
<path d="M312.5,379.34 C316.34,379.22 320.19,379.1 324.03,378.64 C327.88,378.17 331.74,359.93 335.59,359.6 C343.29,358.93 350.99,358.9 358.69,358.6 C374.08,358.01 389.48,357.73 404.88,357.31 C435.67,356.46 466.46,355.69 497.25,354.91" fill="none" stroke="#22335f" stroke-width="1.9" stroke-linejoin="round"/>
<path d="M312.5,377.04 C316.34,374.92 320.19,372.79 324.03,364.28 C327.88,355.75 331.74,288.93 335.59,284.53 C343.29,275.76 350.99,271.38 358.69,271.38 C374.08,271.38 389.48,276.36 404.88,276.36 C435.67,276.36 466.46,275.36 497.25,274.37" fill="none" stroke="#8e0b2a" stroke-width="1.9" stroke-linejoin="round"/>
<circle cx="312.5" cy="379.34" r="4.5" fill="#2e5391" stroke="#1e3566" stroke-width="0.8"/>
<circle cx="324.03" cy="378.64" r="4.5" fill="#2e5391" stroke="#1e3566" stroke-width="0.8"/>
<circle cx="335.59" cy="359.6" r="4.5" fill="#2e5391" stroke="#1e3566" stroke-width="0.8"/>
<circle cx="358.69" cy="358.6" r="4.5" fill="#2e5391" stroke="#1e3566" stroke-width="0.8"/>
<circle cx="404.88" cy="357.31" r="4.5" fill="#2e5391" stroke="#1e3566" stroke-width="0.8"/>
<circle cx="497.25" cy="354.91" r="4.5" fill="#2e5391" stroke="#1e3566" stroke-width="0.8"/>
<circle cx="312.5" cy="377.04" r="4.5" fill="#bf0e2d" stroke="#8a0b27" stroke-width="0.8"/>
<circle cx="324.03" cy="364.28" r="4.5" fill="#bf0e2d" stroke="#8a0b27" stroke-width="0.8"/>
<circle cx="335.59" cy="284.53" r="4.5" fill="#bf0e2d" stroke="#8a0b27" stroke-width="0.8"/>
<circle cx="358.69" cy="271.38" r="4.5" fill="#bf0e2d" stroke="#8a0b27" stroke-width="0.8"/>
<circle cx="404.88" cy="276.36" r="4.5" fill="#bf0e2d" stroke="#8a0b27" stroke-width="0.8"/>
<circle cx="497.25" cy="274.37" r="4.5" fill="#bf0e2d" stroke="#8a0b27" stroke-width="0.8"/>
<circle cx="319.1" cy="357.5" r="1.15" fill="#151515"/>
<circle cx="322.4" cy="357.5" r="1.15" fill="#151515"/>
<circle cx="333.94" cy="266.3" r="1.15" fill="#151515"/>
<circle cx="337.24" cy="266.3" r="1.15" fill="#151515"/>
<circle cx="357.04" cy="248.8" r="1.15" fill="#151515"/>
<circle cx="360.34" cy="248.8" r="1.15" fill="#151515"/>
<circle cx="403.23" cy="260" r="1.15" fill="#151515"/>
<circle cx="406.52" cy="260" r="1.15" fill="#151515"/>
<circle cx="495.6" cy="260" r="1.15" fill="#151515"/>
<circle cx="498.9" cy="260" r="1.15" fill="#151515"/>
<circle cx="320.2" cy="236.5" r="1.15" fill="#151515"/>
<circle cx="323.2" cy="236.5" r="1.15" fill="#151515"/>
<text x="325.5" y="240.8" class="n" textLength="24.7" lengthAdjust="spacingAndGlyphs">p&lt;0.01</text>
<text x="431.93" y="298.5" class="lr" textLength="27.5" lengthAdjust="spacingAndGlyphs">RGS10</text>
<text x="460.31" y="295.8" class="lrs" textLength="3.97" lengthAdjust="spacingAndGlyphs">-/-</text>
<text x="451.96" y="341.3" class="lb" textLength="13.31" lengthAdjust="spacingAndGlyphs">WT</text>
<text transform="translate(277.08,331.12) rotate(-90)" class="ti" style="font-size:8.66px" textLength="41.98" lengthAdjust="spacingAndGlyphs">Jon/A (MFI)</text>
<text x="389.06" y="419.32" class="ti" textLength="46.56" lengthAdjust="spacingAndGlyphs" style="font-size:8.02px">[U46619] µM</text>
<line x1="68.8" y1="442.8" x2="68.8" y2="609" stroke="#111" stroke-width="1.5"/>
<line x1="64.8" y1="605" x2="256.2" y2="605" stroke="#111" stroke-width="1.5"/>
<line x1="64.8" y1="605" x2="68.8" y2="605" stroke="#111" stroke-width="1.3"/>
<text x="61.4" y="607.6" text-anchor="end" class="t" textLength="5.12" lengthAdjust="spacingAndGlyphs">0</text>
<line x1="64.8" y1="585.16" x2="68.8" y2="585.16" stroke="#111" stroke-width="1.3"/>
<text x="61.4" y="587.76" text-anchor="end" class="t" textLength="10.23" lengthAdjust="spacingAndGlyphs">50</text>
<line x1="64.8" y1="565.31" x2="68.8" y2="565.31" stroke="#111" stroke-width="1.3"/>
<text x="61.4" y="567.91" text-anchor="end" class="t" textLength="15.35" lengthAdjust="spacingAndGlyphs">100</text>
<line x1="64.8" y1="545.47" x2="68.8" y2="545.47" stroke="#111" stroke-width="1.3"/>
<text x="61.4" y="548.07" text-anchor="end" class="t" textLength="15.35" lengthAdjust="spacingAndGlyphs">150</text>
<line x1="64.8" y1="525.62" x2="68.8" y2="525.62" stroke="#111" stroke-width="1.3"/>
<text x="61.4" y="528.23" text-anchor="end" class="t" textLength="15.35" lengthAdjust="spacingAndGlyphs">200</text>
<line x1="64.8" y1="505.78" x2="68.8" y2="505.78" stroke="#111" stroke-width="1.3"/>
<text x="61.4" y="508.38" text-anchor="end" class="t" textLength="15.35" lengthAdjust="spacingAndGlyphs">250</text>
<line x1="64.8" y1="485.94" x2="68.8" y2="485.94" stroke="#111" stroke-width="1.3"/>
<text x="61.4" y="488.54" text-anchor="end" class="t" textLength="15.35" lengthAdjust="spacingAndGlyphs">300</text>
<line x1="64.8" y1="466.09" x2="68.8" y2="466.09" stroke="#111" stroke-width="1.3"/>
<text x="61.4" y="468.69" text-anchor="end" class="t" textLength="15.35" lengthAdjust="spacingAndGlyphs">350</text>
<line x1="64.8" y1="446.25" x2="68.8" y2="446.25" stroke="#111" stroke-width="1.3"/>
<text x="61.4" y="448.85" text-anchor="end" class="t" textLength="15.35" lengthAdjust="spacingAndGlyphs">400</text>
<line x1="68.8" y1="605" x2="68.8" y2="609" stroke="#111" stroke-width="1.3"/>
<text x="68.8" y="620" text-anchor="middle" class="t" textLength="5.12" lengthAdjust="spacingAndGlyphs">0</text>
<line x1="104.9" y1="605" x2="104.9" y2="609" stroke="#111" stroke-width="1.3"/>
<text x="104.9" y="620" text-anchor="middle" class="t" textLength="10.23" lengthAdjust="spacingAndGlyphs">10</text>
<line x1="141" y1="605" x2="141" y2="609" stroke="#111" stroke-width="1.3"/>
<text x="141" y="620" text-anchor="middle" class="t" textLength="10.23" lengthAdjust="spacingAndGlyphs">20</text>
<line x1="177.1" y1="605" x2="177.1" y2="609" stroke="#111" stroke-width="1.3"/>
<text x="177.1" y="620" text-anchor="middle" class="t" textLength="10.23" lengthAdjust="spacingAndGlyphs">30</text>
<line x1="213.2" y1="605" x2="213.2" y2="609" stroke="#111" stroke-width="1.3"/>
<text x="213.2" y="620" text-anchor="middle" class="t" textLength="10.23" lengthAdjust="spacingAndGlyphs">40</text>
<line x1="249.3" y1="605" x2="249.3" y2="609" stroke="#111" stroke-width="1.3"/>
<text x="249.3" y="620" text-anchor="middle" class="t" textLength="10.23" lengthAdjust="spacingAndGlyphs">50</text>
<line x1="68.98" y1="531.98" x2="68.98" y2="544.67" stroke="#0a0a0a" stroke-width="1.5"/>
<line x1="66.38" y1="531.98" x2="71.58" y2="531.98" stroke="#0a0a0a" stroke-width="1.5"/>
<line x1="66.38" y1="544.67" x2="71.58" y2="544.67" stroke="#0a0a0a" stroke-width="1.5"/>
<line x1="72.41" y1="526.02" x2="72.41" y2="533.96" stroke="#0a0a0a" stroke-width="1.5"/>
<line x1="69.81" y1="526.02" x2="75.01" y2="526.02" stroke="#0a0a0a" stroke-width="1.5"/>
<line x1="69.81" y1="533.96" x2="75.01" y2="533.96" stroke="#0a0a0a" stroke-width="1.5"/>
<line x1="86.85" y1="513.72" x2="86.85" y2="528.8" stroke="#0a0a0a" stroke-width="1.5"/>
<line x1="84.25" y1="513.72" x2="89.45" y2="513.72" stroke="#0a0a0a" stroke-width="1.5"/>
<line x1="84.25" y1="528.8" x2="89.45" y2="528.8" stroke="#0a0a0a" stroke-width="1.5"/>
<line x1="104.9" y1="520.47" x2="104.9" y2="530.39" stroke="#0a0a0a" stroke-width="1.5"/>
<line x1="102.3" y1="520.47" x2="107.5" y2="520.47" stroke="#0a0a0a" stroke-width="1.5"/>
<line x1="102.3" y1="530.39" x2="107.5" y2="530.39" stroke="#0a0a0a" stroke-width="1.5"/>
<line x1="249.3" y1="523.24" x2="249.3" y2="534.36" stroke="#0a0a0a" stroke-width="1.5"/>
<line x1="246.7" y1="523.24" x2="251.9" y2="523.24" stroke="#0a0a0a" stroke-width="1.5"/>
<line x1="246.7" y1="534.36" x2="251.9" y2="534.36" stroke="#0a0a0a" stroke-width="1.5"/>
<polyline points="68.8,563.73 68.98,560.55 72.41,557.77 86.85,552.22 104.9,559.36 249.3,560.95" fill="none" stroke="#22335f" stroke-width="1.9" stroke-linejoin="round"/>
<polyline points="68.8,560.95 68.98,538.33 72.41,529.99 86.85,521.66 104.9,525.23 249.3,528.8" fill="none" stroke="#8e0b2a" stroke-width="1.9" stroke-linejoin="round"/>
<circle cx="68.8" cy="563.73" r="4.5" fill="#2e5391" stroke="#1e3566" stroke-width="0.8"/>
<circle cx="68.98" cy="560.55" r="4.5" fill="#2e5391" stroke="#1e3566" stroke-width="0.8"/>
<circle cx="72.41" cy="557.77" r="4.5" fill="#2e5391" stroke="#1e3566" stroke-width="0.8"/>
<circle cx="86.85" cy="552.22" r="4.5" fill="#2e5391" stroke="#1e3566" stroke-width="0.8"/>
<circle cx="104.9" cy="559.36" r="4.5" fill="#2e5391" stroke="#1e3566" stroke-width="0.8"/>
<circle cx="249.3" cy="560.95" r="4.5" fill="#2e5391" stroke="#1e3566" stroke-width="0.8"/>
<circle cx="68.8" cy="560.95" r="4.5" fill="#bf0e2d" stroke="#8a0b27" stroke-width="0.8"/>
<circle cx="68.98" cy="538.33" r="4.5" fill="#bf0e2d" stroke="#8a0b27" stroke-width="0.8"/>
<circle cx="72.41" cy="529.99" r="4.5" fill="#bf0e2d" stroke="#8a0b27" stroke-width="0.8"/>
<circle cx="86.85" cy="521.66" r="4.5" fill="#bf0e2d" stroke="#8a0b27" stroke-width="0.8"/>
<circle cx="104.9" cy="525.23" r="4.5" fill="#bf0e2d" stroke="#8a0b27" stroke-width="0.8"/>
<circle cx="249.3" cy="528.8" r="4.5" fill="#bf0e2d" stroke="#8a0b27" stroke-width="0.8"/>
<circle cx="72.5" cy="521.2" r="1.15" fill="#151515"/>
<circle cx="86.5" cy="509.4" r="1.15" fill="#151515"/>
<circle cx="105" cy="515.6" r="1.15" fill="#151515"/>
<circle cx="249.4" cy="518.5" r="1.15" fill="#151515"/>
<circle cx="76.5" cy="542.8" r="1.15" fill="#151515"/>
<circle cx="76.8" cy="453.5" r="1.15" fill="#151515"/>
<text x="81.1" y="458" class="n" textLength="24.6" lengthAdjust="spacingAndGlyphs">p&lt;0.01</text>
<text x="173.53" y="516.4" class="lr" textLength="27.5" lengthAdjust="spacingAndGlyphs">RGS10</text>
<text x="201.91" y="513.2" class="lrs" textLength="3.97" lengthAdjust="spacingAndGlyphs">-/-</text>
<text x="187.56" y="550.9" class="lb" textLength="12.19" lengthAdjust="spacingAndGlyphs">WT</text>
<text transform="translate(38.66,550.78) rotate(-90)" class="ti" style="font-size:9.73px" textLength="54.04" lengthAdjust="spacingAndGlyphs">P-selectin (MFI)</text>
<text x="145.35" y="633.55" class="ti" textLength="36.21" lengthAdjust="spacingAndGlyphs" style="font-size:8.34px">[ADP] µM</text>
<text x="7.99" y="452.47" class="L" textLength="9.15" lengthAdjust="spacingAndGlyphs" style="font-size:13.24px">C</text>
<line x1="312.3" y1="443.5" x2="312.3" y2="609.2" stroke="#111" stroke-width="1.5"/>
<line x1="308.3" y1="605.2" x2="497.9" y2="605.2" stroke="#111" stroke-width="1.5"/>
<line x1="308.3" y1="605.2" x2="312.3" y2="605.2" stroke="#111" stroke-width="1.3"/>
<text x="304.9" y="607.8" text-anchor="end" class="t" textLength="5.12" lengthAdjust="spacingAndGlyphs">0</text>
<line x1="308.3" y1="585.43" x2="312.3" y2="585.43" stroke="#111" stroke-width="1.3"/>
<text x="304.9" y="588.03" text-anchor="end" class="t" textLength="15.35" lengthAdjust="spacingAndGlyphs">200</text>
<line x1="308.3" y1="565.65" x2="312.3" y2="565.65" stroke="#111" stroke-width="1.3"/>
<text x="304.9" y="568.25" text-anchor="end" class="t" textLength="15.35" lengthAdjust="spacingAndGlyphs">400</text>
<line x1="308.3" y1="545.88" x2="312.3" y2="545.88" stroke="#111" stroke-width="1.3"/>
<text x="304.9" y="548.48" text-anchor="end" class="t" textLength="15.35" lengthAdjust="spacingAndGlyphs">600</text>
<line x1="308.3" y1="526.1" x2="312.3" y2="526.1" stroke="#111" stroke-width="1.3"/>
<text x="304.9" y="528.7" text-anchor="end" class="t" textLength="15.35" lengthAdjust="spacingAndGlyphs">800</text>
<line x1="308.3" y1="506.33" x2="312.3" y2="506.33" stroke="#111" stroke-width="1.3"/>
<text x="304.9" y="508.93" text-anchor="end" class="t" textLength="20.47" lengthAdjust="spacingAndGlyphs">1000</text>
<line x1="308.3" y1="486.55" x2="312.3" y2="486.55" stroke="#111" stroke-width="1.3"/>
<text x="304.9" y="489.15" text-anchor="end" class="t" textLength="20.47" lengthAdjust="spacingAndGlyphs">1200</text>
<line x1="308.3" y1="466.78" x2="312.3" y2="466.78" stroke="#111" stroke-width="1.3"/>
<text x="304.9" y="469.38" text-anchor="end" class="t" textLength="20.47" lengthAdjust="spacingAndGlyphs">1400</text>
<line x1="308.3" y1="447" x2="312.3" y2="447" stroke="#111" stroke-width="1.3"/>
<text x="304.9" y="449.6" text-anchor="end" class="t" textLength="20.47" lengthAdjust="spacingAndGlyphs">1600</text>
<line x1="312.3" y1="605.2" x2="312.3" y2="609.2" stroke="#111" stroke-width="1.3"/>
<text x="312.3" y="620.2" text-anchor="middle" class="t" textLength="5.12" lengthAdjust="spacingAndGlyphs">0</text>
<line x1="347.86" y1="605.2" x2="347.86" y2="609.2" stroke="#111" stroke-width="1.3"/>
<text x="347.86" y="620.2" text-anchor="middle" class="t" textLength="10.23" lengthAdjust="spacingAndGlyphs">10</text>
<line x1="383.42" y1="605.2" x2="383.42" y2="609.2" stroke="#111" stroke-width="1.3"/>
<text x="383.42" y="620.2" text-anchor="middle" class="t" textLength="10.23" lengthAdjust="spacingAndGlyphs">20</text>
<line x1="418.98" y1="605.2" x2="418.98" y2="609.2" stroke="#111" stroke-width="1.3"/>
<text x="418.98" y="620.2" text-anchor="middle" class="t" textLength="10.23" lengthAdjust="spacingAndGlyphs">30</text>
<line x1="454.54" y1="605.2" x2="454.54" y2="609.2" stroke="#111" stroke-width="1.3"/>
<text x="454.54" y="620.2" text-anchor="middle" class="t" textLength="10.23" lengthAdjust="spacingAndGlyphs">40</text>
<line x1="490.1" y1="605.2" x2="490.1" y2="609.2" stroke="#111" stroke-width="1.3"/>
<text x="490.1" y="620.2" text-anchor="middle" class="t" textLength="10.23" lengthAdjust="spacingAndGlyphs">50</text>
<line x1="315.86" y1="577.81" x2="315.86" y2="590.67" stroke="#0a0a0a" stroke-width="1.5"/>
<line x1="313.26" y1="577.81" x2="318.46" y2="577.81" stroke="#0a0a0a" stroke-width="1.5"/>
<line x1="313.26" y1="590.67" x2="318.46" y2="590.67" stroke="#0a0a0a" stroke-width="1.5"/>
<line x1="330.08" y1="571.38" x2="330.08" y2="585.23" stroke="#0a0a0a" stroke-width="1.5"/>
<line x1="327.48" y1="571.38" x2="332.68" y2="571.38" stroke="#0a0a0a" stroke-width="1.5"/>
<line x1="327.48" y1="585.23" x2="332.68" y2="585.23" stroke="#0a0a0a" stroke-width="1.5"/>
<line x1="347.86" y1="571.19" x2="347.86" y2="585.03" stroke="#0a0a0a" stroke-width="1.5"/>
<line x1="345.26" y1="571.19" x2="350.46" y2="571.19" stroke="#0a0a0a" stroke-width="1.5"/>
<line x1="345.26" y1="585.03" x2="350.46" y2="585.03" stroke="#0a0a0a" stroke-width="1.5"/>
<line x1="490.1" y1="572.47" x2="490.1" y2="586.61" stroke="#0a0a0a" stroke-width="1.5"/>
<line x1="487.5" y1="572.47" x2="492.7" y2="572.47" stroke="#0a0a0a" stroke-width="1.5"/>
<line x1="487.5" y1="586.61" x2="492.7" y2="586.61" stroke="#0a0a0a" stroke-width="1.5"/>
<line x1="312.48" y1="525.11" x2="312.48" y2="562.68" stroke="#0a0a0a" stroke-width="1.5"/>
<line x1="309.88" y1="525.11" x2="315.08" y2="525.11" stroke="#0a0a0a" stroke-width="1.5"/>
<line x1="309.88" y1="562.68" x2="315.08" y2="562.68" stroke="#0a0a0a" stroke-width="1.5"/>
<line x1="315.86" y1="480.02" x2="315.86" y2="541.23" stroke="#0a0a0a" stroke-width="1.5"/>
<line x1="313.26" y1="480.02" x2="318.46" y2="480.02" stroke="#0a0a0a" stroke-width="1.5"/>
<line x1="313.26" y1="541.23" x2="318.46" y2="541.23" stroke="#0a0a0a" stroke-width="1.5"/>
<line x1="330.08" y1="479.93" x2="330.08" y2="541.82" stroke="#0a0a0a" stroke-width="1.5"/>
<line x1="327.48" y1="479.93" x2="332.68" y2="479.93" stroke="#0a0a0a" stroke-width="1.5"/>
<line x1="327.48" y1="541.82" x2="332.68" y2="541.82" stroke="#0a0a0a" stroke-width="1.5"/>
<line x1="347.86" y1="487.84" x2="347.86" y2="546.86" stroke="#0a0a0a" stroke-width="1.5"/>
<line x1="345.26" y1="487.84" x2="350.46" y2="487.84" stroke="#0a0a0a" stroke-width="1.5"/>
<line x1="345.26" y1="546.86" x2="350.46" y2="546.86" stroke="#0a0a0a" stroke-width="1.5"/>
<line x1="490.1" y1="479.53" x2="490.1" y2="544.39" stroke="#0a0a0a" stroke-width="1.5"/>
<line x1="487.5" y1="479.53" x2="492.7" y2="479.53" stroke="#0a0a0a" stroke-width="1.5"/>
<line x1="487.5" y1="544.39" x2="492.7" y2="544.39" stroke="#0a0a0a" stroke-width="1.5"/>
<path d="M312.3,594.03 C313.49,589.63 314.67,585.23 315.86,584.24 C320.6,580.28 325.34,578.41 330.08,578.31 C336.01,578.17 341.93,578.11 347.86,578.11 C395.27,578.11 442.69,578.8 490.1,579.49" fill="none" stroke="#22335f" stroke-width="1.9" stroke-linejoin="round"/>
<path d="M312.3,589.48 C312.36,567.29 312.42,545.1 312.48,543.9 C313.6,520.96 314.73,511.41 315.86,510.77 C320.6,508.11 325.34,510.59 330.08,510.97 C336.01,511.44 341.93,517.19 347.86,517.2 C395.27,517.27 442.69,514.52 490.1,511.76" fill="none" stroke="#8e0b2a" stroke-width="1.9" stroke-linejoin="round"/>
<circle cx="312.3" cy="594.03" r="4.5" fill="#2e5391" stroke="#1e3566" stroke-width="0.8"/>
<circle cx="315.86" cy="584.24" r="4.5" fill="#2e5391" stroke="#1e3566" stroke-width="0.8"/>
<circle cx="330.08" cy="578.31" r="4.5" fill="#2e5391" stroke="#1e3566" stroke-width="0.8"/>
<circle cx="347.86" cy="578.11" r="4.5" fill="#2e5391" stroke="#1e3566" stroke-width="0.8"/>
<circle cx="490.1" cy="579.49" r="4.5" fill="#2e5391" stroke="#1e3566" stroke-width="0.8"/>
<circle cx="312.3" cy="589.48" r="4.5" fill="#bf0e2d" stroke="#8a0b27" stroke-width="0.8"/>
<circle cx="312.48" cy="543.9" r="4.5" fill="#bf0e2d" stroke="#8a0b27" stroke-width="0.8"/>
<circle cx="315.86" cy="510.77" r="4.5" fill="#bf0e2d" stroke="#8a0b27" stroke-width="0.8"/>
<circle cx="330.08" cy="510.97" r="4.5" fill="#bf0e2d" stroke="#8a0b27" stroke-width="0.8"/>
<circle cx="347.86" cy="517.2" r="4.5" fill="#bf0e2d" stroke="#8a0b27" stroke-width="0.8"/>
<circle cx="490.1" cy="511.76" r="4.5" fill="#bf0e2d" stroke="#8a0b27" stroke-width="0.8"/>
<circle cx="315.86" cy="474.3" r="1.15" fill="#151515"/>
<circle cx="330.08" cy="474.3" r="1.15" fill="#151515"/>
<circle cx="347.86" cy="482.5" r="1.15" fill="#151515"/>
<circle cx="490.1" cy="472.9" r="1.15" fill="#151515"/>
<circle cx="317.2" cy="454.8" r="1.15" fill="#151515"/>
<text x="321.7" y="459.1" class="n" textLength="26.1" lengthAdjust="spacingAndGlyphs">p≤0.05</text>
<text x="410.53" y="500.4" class="lr" textLength="27.5" lengthAdjust="spacingAndGlyphs">RGS10</text>
<text x="438.91" y="497.7" class="lrs" textLength="3.97" lengthAdjust="spacingAndGlyphs">-/-</text>
<text x="433.76" y="564.6" class="lb" textLength="11.99" lengthAdjust="spacingAndGlyphs">WT</text>
<text transform="translate(277.08,546.12) rotate(-90)" class="ti" style="font-size:8.66px" textLength="41.98" lengthAdjust="spacingAndGlyphs">Jon/A (MFI)</text>
<text x="387.35" y="634.46" class="ti" textLength="36.21" lengthAdjust="spacingAndGlyphs" style="font-size:8.77px">[ADP] µM</text>
<rect x="0" y="0" width="520" height="1" fill="#000"/>
<rect x="0" y="1" width="520" height="1" fill="#000" fill-opacity="0.45"/>
<rect x="0" y="0" width="1" height="646" fill="#000"/>
<rect x="1" y="1" width="1" height="644" fill="#000" fill-opacity="0.4"/>
<rect x="519" y="0" width="1" height="646" fill="#000"/>
<rect x="518" y="1" width="1" height="644" fill="#000" fill-opacity="0.6"/>
<rect x="0" y="645" width="520" height="1" fill="#000"/>
<rect x="1" y="644" width="518" height="1" fill="#000" fill-opacity="0.55"/>
</g></svg>

</body></html>
